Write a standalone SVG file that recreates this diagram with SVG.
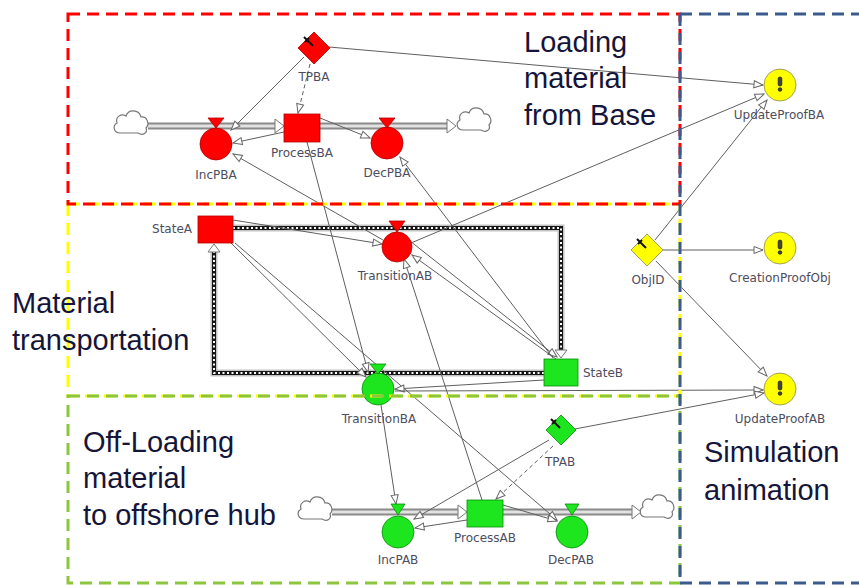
<svg xmlns="http://www.w3.org/2000/svg" width="859" height="585" viewBox="0 0 859 585">
<style>
.lk{stroke:#5f5f5f;stroke-width:1;fill:none;marker-end:url(#arr)}
.dl{stroke-dasharray:4 3}
.pipeO{stroke:#8a8a8a;stroke-width:7;fill:none}
.pipeI{stroke:#e2e2e2;stroke-width:3;fill:none}
.red{fill:#ff0000;stroke:#b00000;stroke-width:0.8}
.grn{fill:#1ee61e;stroke:#0a8a0a;stroke-width:0.8}
.yel{fill:#ffff00;stroke:#8a8a5a;stroke-width:0.8}
.fa{fill:#fff;stroke:#777;stroke-width:1}
.cl{fill:#fff;stroke:#777;stroke-width:1.2}
.lb{font-family:"DejaVu Sans",sans-serif;font-size:12px;fill:#4d4d5e;text-anchor:middle}
.rg{font-family:"Liberation Sans",Arial,sans-serif;font-size:29px;fill:#15153a}
.bx{fill:none;stroke-width:3;stroke-dasharray:12 7}
.sf1{stroke:#c4c4c4;stroke-width:7;fill:none}
.sf2{stroke:#151515;stroke-width:4;fill:none}
.sf3{stroke:#fff;stroke-width:2;fill:none;stroke-dasharray:2 2.5}
.pin{stroke:#111;stroke-width:2;fill:none}
.ex{fill:#444;stroke:#111;stroke-width:0.7}
</style>
<defs>
<marker id="arr" markerWidth="11" markerHeight="9" refX="10" refY="4.5" orient="auto" markerUnits="userSpaceOnUse">
<path d="M1,1 L10,4.5 L1,8 Z" fill="#fff" stroke="#666" stroke-width="1"/>
</marker>
<path id="cloud" d="M-11,10 C-17,10 -19,3 -14,0 C-16,-6 -10,-10 -5,-7 C-3,-14 8,-14 10,-6 C16,-7 19,1 15,5 C17,10 12,13 7,10 Z"/>
<g id="excl"><rect x="-1.8" y="-8" width="3.6" height="9" rx="1.8" class="ex"/><circle cx="0" cy="4.5" r="1.8" class="ex"/></g>
<g id="pinmark"><path d="M-10,-11 L-1,-2 M-9,-6 L-5,-10" class="pin"/></g>
</defs>
<rect width="859" height="585" fill="#fff"/>

<g id="pipes">
<path d="M148,126 H276 M320,126 H448 M332,512 H459 M503,512 H633" class="pipeO"/>
<path d="M148,126 H276 M320,126 H448 M332,512 H459 M503,512 H633" class="pipeI"/>
<use href="#cloud" x="131" y="123" class="cl"/>
<use href="#cloud" x="474" y="120" class="cl"/>
<use href="#cloud" x="315" y="509" class="cl"/>
<use href="#cloud" x="657" y="507" class="cl"/>
<polygon points="275,119 284,126 275,133" class="fa"/>
<polygon points="447,119 456,126 447,133" class="fa"/>
<polygon points="458,505 467,512 458,519" class="fa"/>
<polygon points="632,505 641,512 632,519" class="fa"/>
</g>

<g id="stateflow">
<path d="M233,228 H561 V351 M544,373 H214 V251" class="sf1"/>
<path d="M233,228 H561 V351 M544,373 H214 V251" class="sf2"/>
<path d="M233,228 H561 V351 M544,373 H214 V251" class="sf3"/>
<polygon points="555,350 567,350 561,358" class="fa"/>
<polygon points="208,252 220,252 214,244" class="fa"/>
</g>

<g id="connectors">
<path d="M329,47 L763,85" class="lk"/>
<path d="M304,57 L231,130" class="lk"/>
<path d="M310,64 L298,113" class="lk dl"/>
<path d="M284,132 L233,143" class="lk"/>
<path d="M320,118 L370,138" class="lk"/>
<path d="M383,240 L233,154" class="lk"/>
<path d="M307,142 L368,372" class="lk"/>
<path d="M233,220 L382,244" class="lk"/>
<path d="M231,243 L366,377" class="lk"/>
<path d="M235,243 L557,520" class="lk"/>
<path d="M410,241 L557,357" class="lk"/>
<path d="M556,359 L412,255" class="lk"/>
<path d="M553,358 L400,157" class="lk"/>
<path d="M411,243 L764,94" class="lk"/>
<path d="M482,500 L404,259" class="lk"/>
<path d="M544,380 L395,389" class="lk"/>
<path d="M395,391 L763,390" class="lk"/>
<path d="M381,405 L396,504" class="lk"/>
<path d="M575,429 L764,393" class="lk"/>
<path d="M549,440 L414,519" class="lk"/>
<path d="M553,446 L496,499" class="lk dl"/>
<path d="M467,520 L415,528" class="lk"/>
<path d="M503,505 L557,521" class="lk"/>
<path d="M655,240 L767,100" class="lk"/>
<path d="M663,250 L763,250" class="lk"/>
<path d="M656,261 L767,376" class="lk"/>
</g>

<g id="TPBA"><polygon points="314,32 330,48 314,64 298,48" class="red"/><use href="#pinmark" x="314" y="48"/><text x="314" y="81" class="lb">TPBA</text></g>
<g id="IncPBA"><circle cx="216" cy="144" r="16" class="red"/><polygon points="208,118 224,118 216,128" class="red"/><text x="216" y="179" class="lb">IncPBA</text></g>
<g id="ProcessBA"><rect x="284" y="114" width="36" height="28" class="red"/><text x="302" y="157" class="lb">ProcessBA</text></g>
<g id="DecPBA"><circle cx="387" cy="143" r="16" class="red"/><polygon points="379,118 395,118 387,128" class="red"/><text x="387" y="177" class="lb">DecPBA</text></g>
<g id="StateA"><rect x="198" y="216" width="35" height="27" class="red"/><text x="192" y="233" class="lb" style="text-anchor:end">StateA</text></g>
<g id="TransitionAB"><circle cx="397" cy="247" r="15" class="red"/><polygon points="389,221 405,221 397,232" class="red"/><text x="395" y="280" class="lb">TransitionAB</text></g>
<g id="StateB"><rect x="544" y="359" width="34" height="27" class="grn"/><text x="583" y="377" class="lb" style="text-anchor:start">StateB</text></g>
<g id="TransitionBA"><circle cx="378" cy="389" r="16" class="grn"/><polygon points="370,364 386,364 378,374" class="grn"/><text x="379" y="423" class="lb">TransitionBA</text></g>
<g id="TPAB"><polygon points="561,415 576,430 561,445 546,430" class="grn"/><use href="#pinmark" x="561" y="430"/><text x="560" y="466" class="lb">TPAB</text></g>
<g id="IncPAB"><circle cx="398" cy="532" r="16" class="grn"/><polygon points="391,504 405,504 398,515" class="grn"/><text x="398" y="564" class="lb">IncPAB</text></g>
<g id="ProcessAB"><rect x="467" y="500" width="36" height="27" class="grn"/><text x="485" y="542" class="lb">ProcessAB</text></g>
<g id="DecPAB"><circle cx="572" cy="532" r="16" class="grn"/><polygon points="565,504 579,504 572,515" class="grn"/><text x="571" y="564" class="lb">DecPAB</text></g>
<g id="ObjID"><polygon points="647,234 663,250 647,266 631,250" class="yel"/><use href="#pinmark" x="647" y="250"/><text x="648" y="284" class="lb">ObjID</text></g>
<g id="UpdateProofBA"><circle cx="780" cy="85" r="16" class="yel"/><use href="#excl" x="780" y="85"/><text x="779" y="119" class="lb">UpdateProofBA</text></g>
<g id="CreationProofObj"><circle cx="780" cy="248" r="16" class="yel"/><use href="#excl" x="780" y="248"/><text x="780" y="282" class="lb">CreationProofObj</text></g>
<g id="UpdateProofAB"><circle cx="780" cy="389" r="16" class="yel"/><use href="#excl" x="780" y="389"/><text x="780" y="423" class="lb">UpdateProofAB</text></g>

<g id="regions">
<rect x="68" y="204" width="612" height="192" class="bx" stroke="#ffff00"/>
<rect x="68" y="14" width="612" height="190" class="bx" stroke="#ff0000"/>
<rect x="68" y="396" width="612" height="187" class="bx" stroke="#8cc63f"/>
<path d="M680,14 H862 M680,14 V583 M680,583 H862" class="bx" stroke="#3a5b8c"/>
</g>

<g id="region-labels">
<text class="rg"><tspan x="524" y="52">Loading</tspan><tspan x="524" y="88">material</tspan><tspan x="524" y="125">from Base</tspan></text>
<text class="rg"><tspan x="12" y="313">Material</tspan><tspan x="12" y="350">transportation</tspan></text>
<text class="rg"><tspan x="83" y="452">Off-Loading</tspan><tspan x="83" y="488">material</tspan><tspan x="83" y="525">to offshore hub</tspan></text>
<text class="rg"><tspan x="704" y="462">Simulation</tspan><tspan x="704" y="500">animation</tspan></text>
</g>
</svg>
